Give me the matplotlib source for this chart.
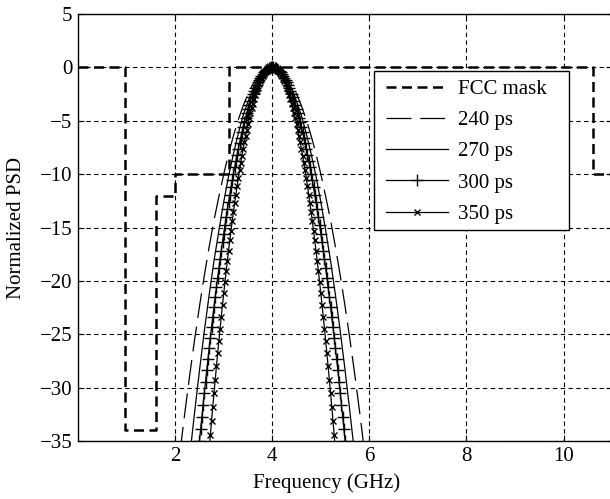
import numpy as np
import matplotlib
matplotlib.use("Agg")
import matplotlib.pyplot as plt
from matplotlib.patches import Rectangle

plt.rcParams['font.family'] = ['Liberation Serif', 'DejaVu Serif']
plt.rcParams['axes.unicode_minus'] = True

# FCC indoor mask (normalized, dB)
mask_f = [0, 0.96, 0.96, 1.61, 1.61, 1.99, 1.99, 3.1, 3.1, 10.6, 10.6, 11.2]
mask_db = [0, 0, -34, -34, -12, -12, -10, -10, 0, 0, -10, -10]

# 240 ps, f = 2.1 ... 5.9 step 0.1
f_240 = np.round(np.arange(2.1, 5.95, 0.1), 3)
psd_240 = [-36.0, -32.3, -28.8, -25.5, -22.4, -19.5, -16.8, -14.3, -12.1, -10.0,
           -8.1, -6.4, -4.9, -3.6, -2.5, -1.6, -0.9, -0.4, -0.1, 0.0,
           -0.1, -0.4, -0.9, -1.6, -2.5, -3.6, -4.9, -6.4, -8.1, -10.0,
           -12.1, -14.3, -16.8, -19.5, -22.4, -25.5, -28.8, -32.3, -36.0]

# 270 ps, f = 2.3 ... 5.7 step 0.1
f_270 = np.round(np.arange(2.3, 5.75, 0.1), 3)
psd_270 = [-36.4, -32.3, -28.4, -24.7, -21.3, -18.1, -15.3, -12.6, -10.2, -8.1,
           -6.2, -4.5, -3.2, -2.0, -1.1, -0.5, -0.1, 0.0,
           -0.1, -0.5, -1.1, -2.0, -3.2, -4.5, -6.2, -8.1, -10.2, -12.6,
           -15.3, -18.1, -21.3, -24.7, -28.4, -32.3, -36.4]

# 300 ps, f = 2.45 ... 5.55 step 0.025
f_300 = np.round(np.arange(2.45, 5.5625, 0.025), 4)
psd_300 = [-37.38, -36.19, -35.01, -33.85, -32.71, -31.60, -30.50, -29.42, -28.36, -27.32,
           -26.30, -25.30, -24.31, -23.35, -22.41, -21.48, -20.58, -19.69, -18.83, -17.98,
           -17.15, -16.35, -15.56, -14.79, -14.04, -13.31, -12.60, -11.91, -11.24, -10.59,
           -9.96, -9.35, -8.75, -8.18, -7.62, -7.09, -6.57, -6.08, -5.60, -5.14,
           -4.71, -4.29, -3.89, -3.51, -3.15, -2.81, -2.49, -2.19, -1.91, -1.64,
           -1.40, -1.18, -0.97, -0.79, -0.62, -0.48, -0.35, -0.24, -0.16, -0.09,
           -0.04, -0.01, 0.0,
           -0.01, -0.04, -0.09, -0.16, -0.24, -0.35, -0.48, -0.62, -0.79, -0.97,
           -1.18, -1.40, -1.64, -1.91, -2.19, -2.49, -2.81, -3.15, -3.51, -3.89,
           -4.29, -4.71, -5.14, -5.60, -6.08, -6.57, -7.09, -7.62, -8.18, -8.75,
           -9.35, -9.96, -10.59, -11.24, -11.91, -12.60, -13.31, -14.04, -14.79, -15.56,
           -16.35, -17.15, -17.98, -18.83, -19.69, -20.58, -21.48, -22.41, -23.35, -24.31,
           -25.30, -26.30, -27.32, -28.36, -29.42, -30.50, -31.60, -32.71, -33.85, -35.01,
           -36.19, -37.38]

# 350 ps, f = 2.70 ... 5.30 step 0.025
f_350 = np.round(np.arange(2.70, 5.3125, 0.025), 4)
psd_350 = [-35.78, -34.41, -33.08, -31.77, -30.48, -29.23, -28.00, -26.79, -25.62, -24.46,
           -23.34, -22.24, -21.17, -20.12, -19.11, -18.11, -17.15, -16.21, -15.30, -14.41,
           -13.55, -12.72, -11.91, -11.13, -10.37, -9.65, -8.94, -8.27, -7.62, -7.00,
           -6.40, -5.83, -5.29, -4.78, -4.29, -3.82, -3.39, -2.98, -2.59, -2.24,
           -1.91, -1.60, -1.32, -1.07, -0.85, -0.65, -0.48, -0.33, -0.21, -0.12,
           -0.05, -0.01, 0.0,
           -0.01, -0.05, -0.12, -0.21, -0.33, -0.48, -0.65, -0.85, -1.07, -1.32,
           -1.60, -1.91, -2.24, -2.59, -2.98, -3.39, -3.82, -4.29, -4.78, -5.29,
           -5.83, -6.40, -7.00, -7.62, -8.27, -8.94, -9.65, -10.37, -11.13, -11.91,
           -12.72, -13.55, -14.41, -15.30, -16.21, -17.15, -18.11, -19.11, -20.12, -21.17,
           -22.24, -23.34, -24.46, -25.62, -26.79, -28.00, -29.23, -30.48, -31.77, -33.08,
           -34.41, -35.78]

x_ticks = [2, 4, 6, 8, 10]
y_ticks = [-35, -30, -25, -20, -15, -10, -5, 0, 5]

fig = plt.figure(figsize=(6.10, 4.99), dpi=100)
ax = fig.add_axes([0.128, 0.116, 0.8755, 0.856])

ax.plot(mask_f, mask_db, color='black', lw=1.8, dashes=(4, 2.2), label='FCC mask', zorder=3)
ax.plot(f_240, psd_240, color='black', lw=0.9, dashes=(20, 7), label='240 ps', zorder=3)
ax.plot(f_270, psd_270, color='black', lw=0.9, label='270 ps', zorder=3)
ax.plot(f_300, psd_300, color='black', lw=0.9, marker='+', ms=8, mew=1.0, label='300 ps', zorder=3)
ax.plot(f_350, psd_350, color='black', lw=0.9, marker='x', ms=5, mew=1.0, label='350 ps', zorder=3)

ax.set_xlim(0, 11)
ax.set_ylim(-35, 5)
ax.set_xticks(x_ticks)
ax.set_yticks(y_ticks)
ax.tick_params(direction='in', top=True, right=True, labelsize=15, length=4, width=0.8, pad=4)
ax.grid(True, color='black', linestyle=(0, (4, 3)), lw=0.8)
ax.set_axisbelow(True)
for s in ax.spines.values():
    s.set_linewidth(1.0)

ax.set_xlabel('Frequency (GHz)', fontsize=15)
ax.xaxis.set_label_coords(0.465, -0.075)
ax.set_ylabel('Normalized PSD', fontsize=15)
ax.yaxis.set_label_coords(-0.097, 0.5)

# legend box
ax.add_patch(Rectangle((0.5535, 0.494), 0.3655, 0.3725, transform=ax.transAxes,
                       facecolor='white', edgecolor='black', lw=1.0, zorder=4.5))
leg = ax.legend(loc='upper left', bbox_to_anchor=(0.576, 0.847), fontsize=15,
                frameon=False, handlelength=3.0, borderpad=0.0, labelspacing=0.56,
                handletextpad=0.45, borderaxespad=0)
leg.set_zorder(5)

fig.savefig('out.png', dpi=100)
